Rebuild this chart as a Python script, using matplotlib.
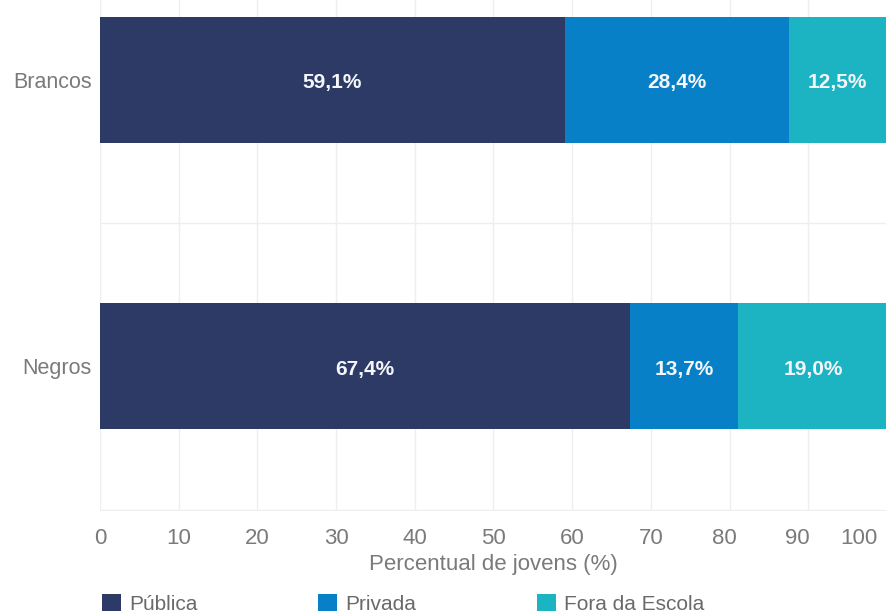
import numpy as np
import matplotlib.pyplot as plt
from matplotlib.patches import Patch
from matplotlib.transforms import ScaledTranslation

plt.rcParams['font.family'] = ['Liberation Sans', 'DejaVu Sans']

# Share of young people by school network, per group
grupos = ["Negros", "Brancos"]
categorias = ["Pública", "Privada", "Fora da Escola"]
publica = [67.4, 59.1]
privada = [13.7, 28.4]
fora_escola = [19.0, 12.5]
cores = ["#2d3a66", "#0880c8", "#1cb3c3"]

xticks = list(range(0, 101, 10))

fig = plt.figure(figsize=(8.87, 6.14), dpi=100)
ax = fig.add_axes([100 / 887, 1 - 511 / 614, 787 / 887, 511 / 614])

y = np.arange(len(grupos))
series = [publica, privada, fora_escola]
left = np.zeros(len(grupos))
for nome, valores, cor in zip(categorias, series, cores):
    valores = np.array(valores)
    ax.barh(y, valores, left=left, height=0.44, color=cor, label=nome, zorder=2)
    for yi, l, v in zip(y, left, valores):
        ax.text(l + v / 2, yi - 0.01, f"{v:.1f}%".replace(".", ","), ha="center", va="center",
                color="#f4f6fa", fontsize=15, fontweight="bold", zorder=3)
    left += valores

ax.set_xticks(xticks)
ax.set_xticklabels([str(t) for t in xticks])
ax.set_yticks(y)
ax.set_yticklabels(grupos)
ax.set_yticks([-0.5, 0.5, 1.5], minor=True)
ax.set_xlim(0, 100)
ax.set_ylim(-0.505, 1.279)

ax.grid(axis="x", color="#eeeeee", linewidth=1, zorder=0)
ax.grid(axis="y", which="minor", color="#eeeeee", linewidth=1, zorder=0)
for s in ax.spines.values():
    s.set_visible(False)
ax.tick_params(axis="both", which="both", length=0, colors="#7a7a7a")
ax.tick_params(axis="x", labelsize=16, pad=12)
ax.tick_params(axis="y", labelsize=15.5, pad=6)

# keep the last labels inside the figure
shifts = {80: -5, 90: -11, 100: -28}
for t, lab in zip(xticks, ax.get_xticklabels()):
    if t in shifts:
        lab.set_transform(lab.get_transform() +
                          ScaledTranslation(shifts[t] / 100, 0, fig.dpi_scale_trans))

ax.set_xlabel("Percentual de jovens (%)", fontsize=16, color="#7a7a7a", labelpad=4)

handles = [Patch(facecolor=c, edgecolor="none") for c in cores]
fig.legend(handles, categorias, loc="upper left", bbox_to_anchor=(102 / 887, 1 - 594 / 614),
           ncol=3, frameon=False, fontsize=15, handlelength=0.9, handleheight=0.9,
           handletextpad=0.4, columnspacing=5.8, labelcolor="#6a6a6a", borderaxespad=0,
           borderpad=0)

fig.savefig("out.png", dpi=100)
